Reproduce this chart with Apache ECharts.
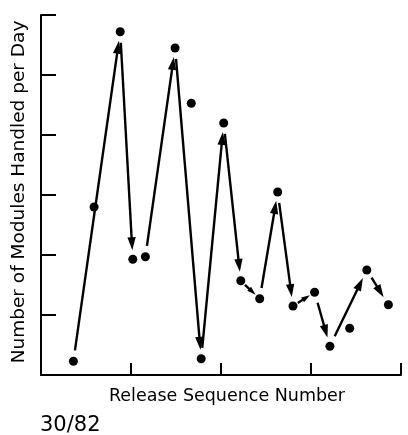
<!DOCTYPE html>
<html>
<head>
<meta charset="utf-8">
<script src="https://cdn.jsdelivr.net/npm/echarts@6/dist/echarts.min.js"></script>
<style>html,body{margin:0;padding:0;background:#fff}#c{width:408px;height:435px}</style>
</head>
<body>
<div id="c"></div>
<script>
// Release sequence position (x) and modules handled per day (y)
var releaseX = [0.36, 0.59, 0.88, 1.02, 1.16, 1.49, 1.67, 1.78, 2.03, 2.22, 2.43, 2.63, 2.80, 3.04, 3.21, 3.43, 3.62, 3.86];
var modulesPerDay = [0.23, 2.80, 5.72, 1.93, 1.97, 5.45, 4.53, 0.27, 4.20, 1.57, 1.27, 3.05, 1.15, 1.38, 0.48, 0.78, 1.75, 1.17];
// arrows drawn between releases (from index, to index)
var arrowFrom = [0, 2, 4, 5, 7, 8, 9, 10, 11, 12, 13, 14, 16];
var arrowTo   = [2, 3, 5, 7, 8, 9, 10, 11, 12, 13, 14, 16, 17];
var xTicks = [0, 1, 2, 3, 4];
var yTicks = [0, 1, 2, 3, 4, 5, 6];
var xTitle = 'Release Sequence Number';
var yTitle = 'Number of Modules Handled per Day';
var footnote = '30/82';

var points = releaseX.map(function (x, i) { return [x, modulesPerDay[i]]; });
var arrows = arrowFrom.map(function (f, i) {
  var t = arrowTo[i];
  return [releaseX[f], modulesPerDay[f], releaseX[t], modulesPerDay[t]];
});

var FONT = 'DejaVu Sans';
var INK = '#000';
var chart = echarts.init(document.getElementById('c'), null, {renderer: 'canvas'});
chart.setOption({
  animation: false,
  backgroundColor: '#ffffff',
  grid: {left: 41, right: 7, top: 15, bottom: 60, containLabel: false},
  xAxis: {
    type: 'value', min: xTicks[0], max: xTicks[xTicks.length - 1], interval: 1,
    axisLine: {lineStyle: {color: INK, width: 2}},
    axisTick: {inside: true, length: 12, lineStyle: {color: INK, width: 2}},
    axisLabel: {show: false}, splitLine: {show: false}
  },
  yAxis: {
    type: 'value', min: yTicks[0], max: yTicks[yTicks.length - 1], interval: 1,
    axisLine: {lineStyle: {color: INK, width: 2}},
    axisTick: {inside: true, length: 15, lineStyle: {color: INK, width: 2}},
    axisLabel: {show: false}, splitLine: {show: false}
  },
  graphic: [
    {type: 'text', rotation: Math.PI / 2, x: 19, y: 192,
     style: {text: yTitle, font: '18.5px "' + FONT + '"', fill: INK, align: 'center', verticalAlign: 'middle'}},
    {type: 'text', x: 227, y: 396,
     style: {text: xTitle, font: '17.5px "' + FONT + '"', fill: INK, align: 'center', verticalAlign: 'middle'}},
    {type: 'text', x: 40, y: 426,
     style: {text: footnote, font: '21px "' + FONT + '"', fill: INK, align: 'left', verticalAlign: 'middle'}}
  ],
  series: [
    {
      type: 'custom',
      data: arrows,
      silent: true,
      renderItem: function (params, api) {
        var p1 = api.coord([api.value(0), api.value(1)]);
        var p2 = api.coord([api.value(2), api.value(3)]);
        var dx = p2[0] - p1[0], dy = p2[1] - p1[1];
        var len = Math.sqrt(dx * dx + dy * dy);
        var ux = dx / len, uy = dy / len;
        var g0 = Math.min(11, len * 0.22), g1 = Math.min(9, len * 0.22);
        var sx = p1[0] + ux * g0, sy = p1[1] + uy * g0;
        var ex = p2[0] - ux * g1, ey = p2[1] - uy * g1;
        var hl = Math.min(13, (len - g0 - g1) * 0.6), hw = hl * 0.32;
        var bx = ex - ux * hl, by = ey - uy * hl;
        var nx = -uy, ny = ux;
        return {
          type: 'group',
          children: [
            {type: 'line', shape: {x1: sx, y1: sy, x2: bx + ux * 2, y2: by + uy * 2},
             style: {stroke: INK, lineWidth: 2.4}},
            {type: 'polygon', shape: {points: [[ex, ey], [bx + nx * hw, by + ny * hw], [bx - nx * hw, by - ny * hw]]},
             style: {fill: INK}}
          ]
        };
      }
    },
    {
      type: 'scatter',
      data: points,
      symbol: 'circle',
      symbolSize: 9,
      itemStyle: {color: INK, opacity: 1},
      silent: true
    }
  ]
});
</script>
</body>
</html>
